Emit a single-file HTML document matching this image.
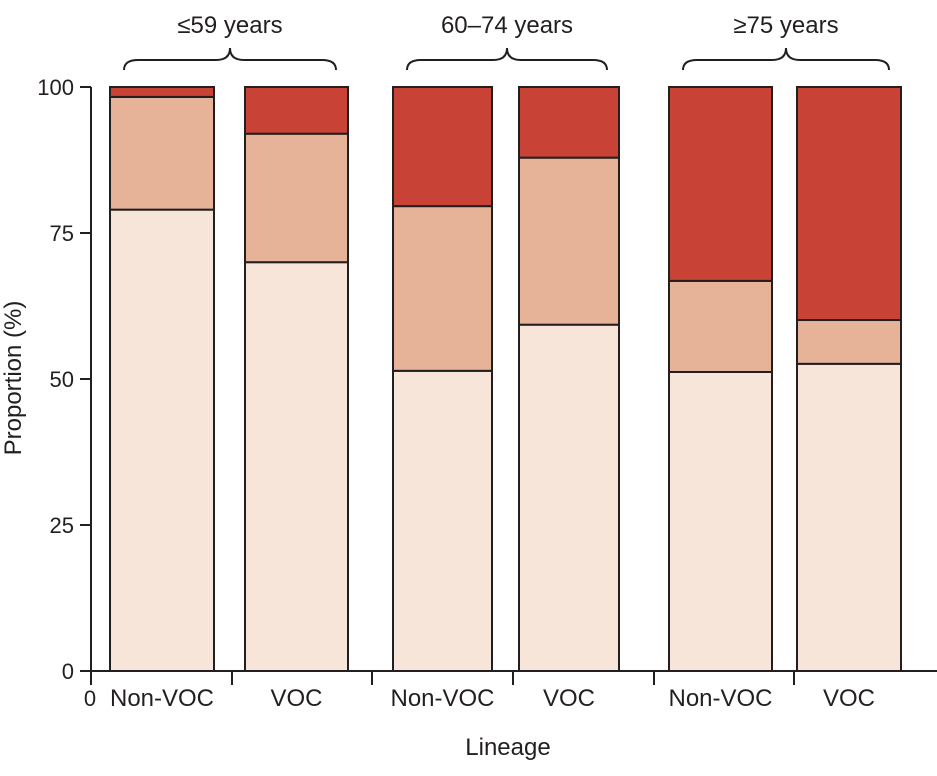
<!DOCTYPE html>
<html><head><meta charset="utf-8"><style>
body{margin:0;background:#fff;}
svg text{font-family:"Liberation Sans",sans-serif;fill:#231f20;}
</style></head><body>
<svg id="chart" width="937" height="771" viewBox="0 0 937 771" xmlns="http://www.w3.org/2000/svg">
<g id="marks"></g>
<g id="axes"></g>
</svg>
<script>
const groups = ["≤59 years","60–74 years","≥75 years"];
const categories = ["Non-VOC","VOC","Non-VOC","VOC","Non-VOC","VOC"];
const seriesLow = [79.0, 70.0, 51.4, 59.3, 51.2, 52.6];
const seriesMid = [19.3, 22.0, 28.2, 28.6, 15.6, 7.5];
const seriesHigh = [1.7, 8.0, 20.4, 12.1, 33.2, 39.9];
const yTicks = [0,25,50,75,100];

const NS="http://www.w3.org/2000/svg";
const y0=671, y100=87;
function yScale(v){return y0-(y0-y100)*v/100;}
const barLeft=[110,245,393,519,669,797];
const barW=[104,103,99,100,103,104];
const colors=["#f8e5d9","#e6b398","#c94236"];
function mk(tag,attrs,parent){const e=document.createElementNS(NS,tag);for(const k in attrs)e.setAttribute(k,attrs[k]);parent.appendChild(e);return e;}
const marks=document.getElementById('marks'), axes=document.getElementById('axes');
categories.forEach((c,i)=>{
  let acc=0;
  [seriesLow,seriesMid,seriesHigh].forEach((s,j)=>{
    const v=s[i];
    const r=mk('rect',{x:barLeft[i],y:yScale(acc+v),width:barW[i],height:yScale(acc)-yScale(acc+v),fill:colors[j],stroke:"#231f20","stroke-width":2},marks);
    
    
    acc+=v;
  });
  const t=mk('text',{x:barLeft[i]+barW[i]/2,y:706,"text-anchor":"middle","font-size":24},axes);
  t.textContent=c;
  
  
});
let l=mk('line',{x1:91,y1:87,x2:91,y2:685,stroke:"#231f20","stroke-width":2},axes);

l=mk('line',{x1:84,y1:671,x2:937,y2:671,stroke:"#231f20","stroke-width":2},axes);

[232,372,513,654,794].forEach(x=>{const tk=mk('line',{x1:x,y1:671,x2:x,y2:685,stroke:"#231f20","stroke-width":2},axes);
});
yTicks.forEach(v=>{
  const tk=mk('line',{x1:80,y1:yScale(v),x2:91,y2:yScale(v),stroke:"#231f20","stroke-width":2},axes);
  
  const t=mk('text',{x:74,y:yScale(v)+8,"text-anchor":"end","font-size":22},axes);
  t.textContent=v;
  
});
let t=mk('text',{x:90,y:706,"text-anchor":"middle","font-size":22},axes);t.textContent="0";

t=mk('text',{x:508,y:755,"text-anchor":"middle","font-size":24},axes);t.textContent="Lineage";

t=mk('text',{x:0,y:0,"text-anchor":"middle","font-size":24,transform:"translate(21,378) rotate(-90)"},axes);t.textContent="Proportion (%)";

groups.forEach((g,k)=>{
  const a=barLeft[2*k]+14, b=barLeft[2*k+1]+barW[2*k+1]-12, m=(a+b)/2;
  const p=mk('path',{d:`M${a},70 Q${a},60 ${a+14},60 L${m-14},60 Q${m},60 ${m},48 Q${m},60 ${m+14},60 L${b-14},60 Q${b},60 ${b},70`,fill:"none",stroke:"#231f20","stroke-width":2},axes);
  
  const tt=mk('text',{x:m,y:33,"text-anchor":"middle","font-size":24},axes);tt.textContent=g;
  
});
</script>
</body></html>
